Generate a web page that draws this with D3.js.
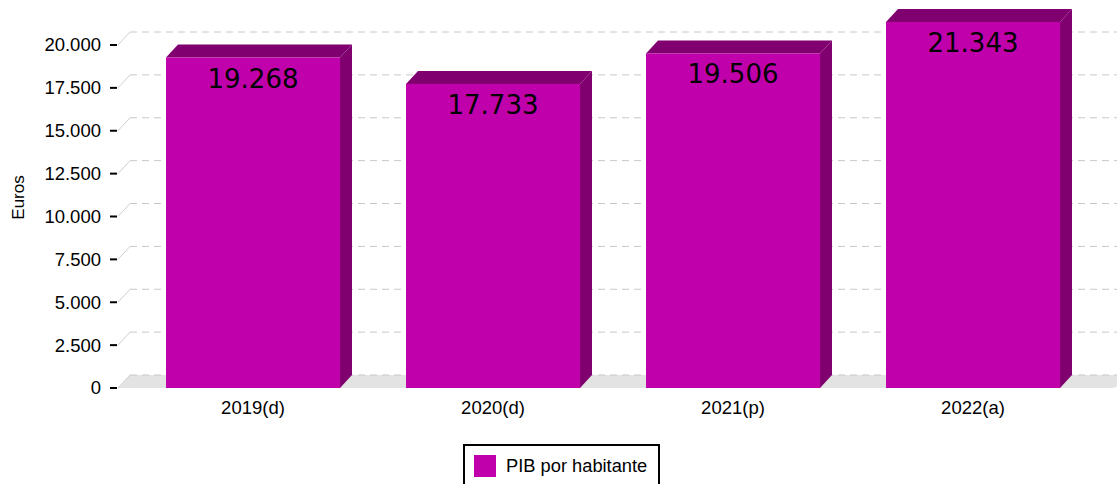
<!DOCTYPE html>
<html><head><meta charset="utf-8">
<script src="https://cdn.jsdelivr.net/npm/d3@7"></script>
<style>body{margin:0;background:#fff}svg{display:block}</style>
</head><body>
<svg id="c" width="1117" height="484"></svg>
<script>
const categories = ["2019(d)", "2020(d)", "2021(p)", "2022(a)"];
const values = [19268, 17733, 19506, 21343];
const yTicks = [0, 2500, 5000, 7500, 10000, 12500, 15000, 17500, 20000];
const seriesName = "PIB por habitante";
const yTitle = "Euros";

const svg = d3.select("#c");
const font = "'Liberation Sans', Arial, sans-serif";
const front = "#c000aa", dark = "#80006f";
const dx = 12, dy = 13;
const y = d3.scaleLinear().domain([0, 20000]).range([388, 45]);
const x = d3.scaleBand().domain(categories).range([133, 1093]).paddingInner(0.275).paddingOuter(0.1375);
const fmt = v => d3.format(",")(v).replace(/,/g, ".");

// floor
const y0 = y(0);
svg.append("path")
  .attr("d", `M118,${y0} L${118+dx},${y0-dy} L1117,${y0-dy} L1117,${y0-3} Q1117,${y0} 1112,${y0} Z`)
  .attr("fill", "#e3e3e3");

// gridlines
yTicks.forEach(t => {
  const yy = y(t);
  svg.append("line").attr("x1", 118).attr("y1", yy).attr("x2", 118+dx).attr("y2", yy-dy)
    .attr("stroke", "#cfcfcf").attr("stroke-width", 1);
  svg.append("line").attr("x1", 118+dx).attr("y1", yy-dy).attr("x2", 1117).attr("y2", yy-dy)
    .attr("stroke", "#c8c8c8").attr("stroke-width", 1).attr("stroke-dasharray", "7,5");
});

// y axis ticks + labels
const ya = svg.append("g");
yTicks.forEach(t => {
  const yy = y(t);
  ya.append("line").attr("x1", 110).attr("x2", 117).attr("y1", yy).attr("y2", yy)
    .attr("stroke", "#000").attr("stroke-width", 2);
  ya.append("text").attr("x", 101).attr("y", yy).attr("dy", "0.35em")
    .attr("text-anchor", "end").attr("font-family", font).attr("font-size", 18.5)
    .attr("fill", "#000").text(fmt(t));
});
svg.append("text").attr("transform", "translate(24,197.5) rotate(-90)")
  .attr("text-anchor", "middle").attr("font-family", font).attr("font-size", 17)
  .text(yTitle);

// bars
const bw = x.bandwidth();
categories.forEach((c, i) => {
  const v = values[i];
  const x0 = x(c), x1 = x0 + bw, yv = y(v);
  const g = svg.append("g");
  g.append("path").attr("d", `M${x1},${yv} L${x1+dx},${yv-dy} L${x1+dx},${y0-dy} L${x1},${y0} Z`).attr("fill", dark);
  g.append("path").attr("d", `M${x0},${yv} L${x0+dx},${yv-dy} L${x1+dx},${yv-dy} L${x1},${yv} Z`).attr("fill", dark);
  g.append("rect").attr("x", x0).attr("y", yv).attr("width", bw).attr("height", y0 - yv).attr("fill", front);
  g.append("text").attr("x", x0 + bw/2).attr("y", yv + 30).attr("text-anchor", "middle")
    .attr("font-family", "'DejaVu Sans', sans-serif").attr("font-size", 26).attr("fill", "#000")
    .text(fmt(v));
  svg.append("text").attr("x", x0 + bw/2).attr("y", 414).attr("text-anchor", "middle")
    .attr("font-family", font).attr("font-size", 18.5).attr("fill", "#000").text(c);
});

// legend
const lg = svg.append("g");
lg.append("rect").attr("x", 464).attr("y", 445).attr("width", 195).attr("height", 45)
  .attr("fill", "#fff").attr("stroke", "#000").attr("stroke-width", 2);
lg.append("rect").attr("x", 474).attr("y", 455).attr("width", 22).attr("height", 22).attr("fill", front);
lg.append("text").attr("x", 506).attr("y", 472).attr("font-family", font).attr("font-size", 18.3)
  .attr("fill", "#000").text(seriesName);
</script>
</body></html>
